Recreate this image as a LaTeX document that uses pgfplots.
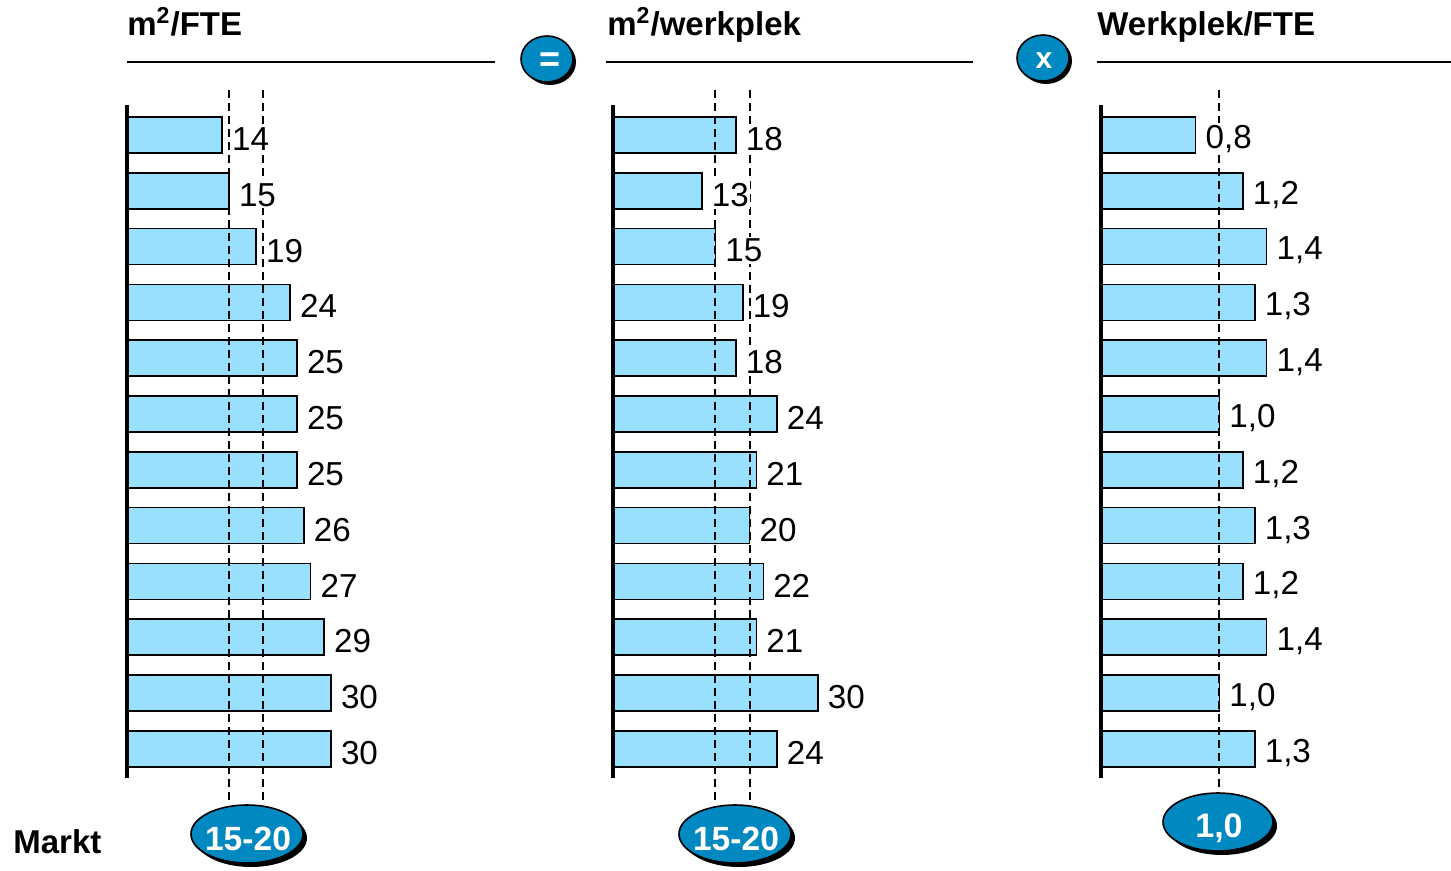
\documentclass[border=0pt]{standalone}
\usepackage{fontspec}
\setmainfont{Liberation Sans}
\usepackage{pgfplots}
\usepackage{pgfplotstable}
\pgfplotsset{compat=1.18}

\definecolor{barblue}{RGB}{153,224,255}
\definecolor{badge}{RGB}{0,136,192}

% row, m2/FTE, m2/werkplek, werkplek/FTE
\pgfplotstableread{
row fte wp ratio
1  14 18 0.8
2  15 13 1.2
3  19 15 1.4
4  24 19 1.3
5  25 18 1.4
6  25 24 1.0
7  25 21 1.2
8  26 20 1.3
9  27 22 1.2
10 29 21 1.4
11 30 30 1.0
12 30 24 1.3
}\data

\pgfplotsset{
  panel/.style={
    hide axis, scale only axis, clip=false,
    y dir=reverse, ymin=0, ymax=13, xmin=0,
    height=362.7pt, anchor=north west,
    /pgf/number format/assume math mode=true,
  },
  bars/.style={xbar, bar shift=0pt, bar width=18pt, fill=barblue, draw=black, line width=0.75pt},
  refline/.style={line width=1pt, dash pattern=on 4pt off 2.5pt},
  vals/.style={draw=none, mark=none, point meta=x,
    nodes near coords, nodes near coords align=horizontal,
    every node near coord/.append style={fill=white, inner xsep=0.5pt, inner ysep=1pt,
      xshift=4.3pt, yshift=-2pt, text=black, font=\fontsize{16.6}{19}\selectfont}},
}

\tikzset{
  badge/.style={fill=badge, draw=black, line width=0.8pt},
}

\begin{document}
\begin{tikzpicture}[x=0.5pt,y=-0.5pt]
\useasboundingbox (0,0) rectangle (1451,871);

% titles
\begin{scope}[every node/.style={inner sep=0pt, anchor=base west, font=\fontsize{16.5}{19}\selectfont\bfseries}]
\node at (127,36) {m\textsuperscript{2}/FTE};
\node at (607,36) {m\textsuperscript{2}/werkplek};
\node at (1097,36) {Werkplek/FTE};
\node at (13,853) {Markt};
\end{scope}
\draw[line width=1pt] (127,62) -- (495,62);
\draw[line width=1pt] (606,62) -- (973,62);
\draw[line width=1pt] (1097,62) -- (1451,62);

% operator circles
\fill[black] (550,62) ellipse [x radius=13pt, y radius=11.5pt];
\draw[badge] (547,59) ellipse [x radius=13pt, y radius=11.5pt];
\node[text=white, font=\fontsize{18}{20}\selectfont\bfseries] at (550,62) {=};
\fill[black] (1046,61) ellipse [x radius=13pt, y radius=11.5pt];
\draw[badge] (1043,58) ellipse [x radius=13pt, y radius=11.5pt];
\node[text=white, font=\fontsize{15}{17}\selectfont\bfseries] at (1044,61) {x};

% panel 1
\begin{axis}[panel, at={(63.5pt,-39.6pt)}, xmax=40, width=136pt]
\addplot[bars] table[x=fte, y=row] {\data};
\addplot[refline] coordinates {(15,0.19) (15,13)};
\addplot[refline] coordinates {(20,0.19) (20,13)};
\addplot[vals] table[x=fte, y=row] {\data};
\draw[line width=2pt] (axis cs:0,0.46) -- (axis cs:0,12.52);
\end{axis}

% panel 2
\begin{axis}[panel, at={(306.5pt,-39.6pt)}, xmax=40, width=136.6pt]
\addplot[bars] table[x=wp, y=row] {\data};
\addplot[refline] coordinates {(15,0.19) (15,13)};
\addplot[refline] coordinates {(20,0.19) (20,13)};
\addplot[vals] table[x=wp, y=row] {\data};
\draw[line width=2pt] (axis cs:0,0.46) -- (axis cs:0,12.52);
\end{axis}

% panel 3
\begin{axis}[panel, at={(550.5pt,-39.6pt)}, xmax=2, width=118.3pt,
  /pgf/number format/.cd, fixed, fixed zerofill, precision=1, use comma]
\addplot[bars] table[x=ratio, y=row] {\data};
\addplot[refline] coordinates {(1,0.19) (1,13)};
\addplot[vals] table[x=ratio, y=row] {\data};
\draw[line width=2pt] (axis cs:0,0.46) -- (axis cs:0,12.52);
\end{axis}

% market ranges
\fill[black] (251,838) ellipse [x radius=28pt, y radius=14.5pt];
\draw[badge] (247,834) ellipse [x radius=28pt, y radius=14.5pt];
\node[anchor=base, inner sep=0pt, text=white, font=\fontsize{16.8}{19}\selectfont\bfseries] at (248,850) {15-20};
\fill[black] (739,838) ellipse [x radius=28pt, y radius=14.5pt];
\draw[badge] (735,834) ellipse [x radius=28pt, y radius=14.5pt];
\node[anchor=base, inner sep=0pt, text=white, font=\fontsize{16.8}{19}\selectfont\bfseries] at (736,850) {15-20};
\fill[black] (1222,826) ellipse [x radius=27.5pt, y radius=14.5pt];
\draw[badge] (1218,822) ellipse [x radius=27.5pt, y radius=14.5pt];
\node[anchor=base, inner sep=0pt, text=white, font=\fontsize{17}{19}\selectfont\bfseries] at (1219,837) {1,0};
\end{tikzpicture}
\end{document}
